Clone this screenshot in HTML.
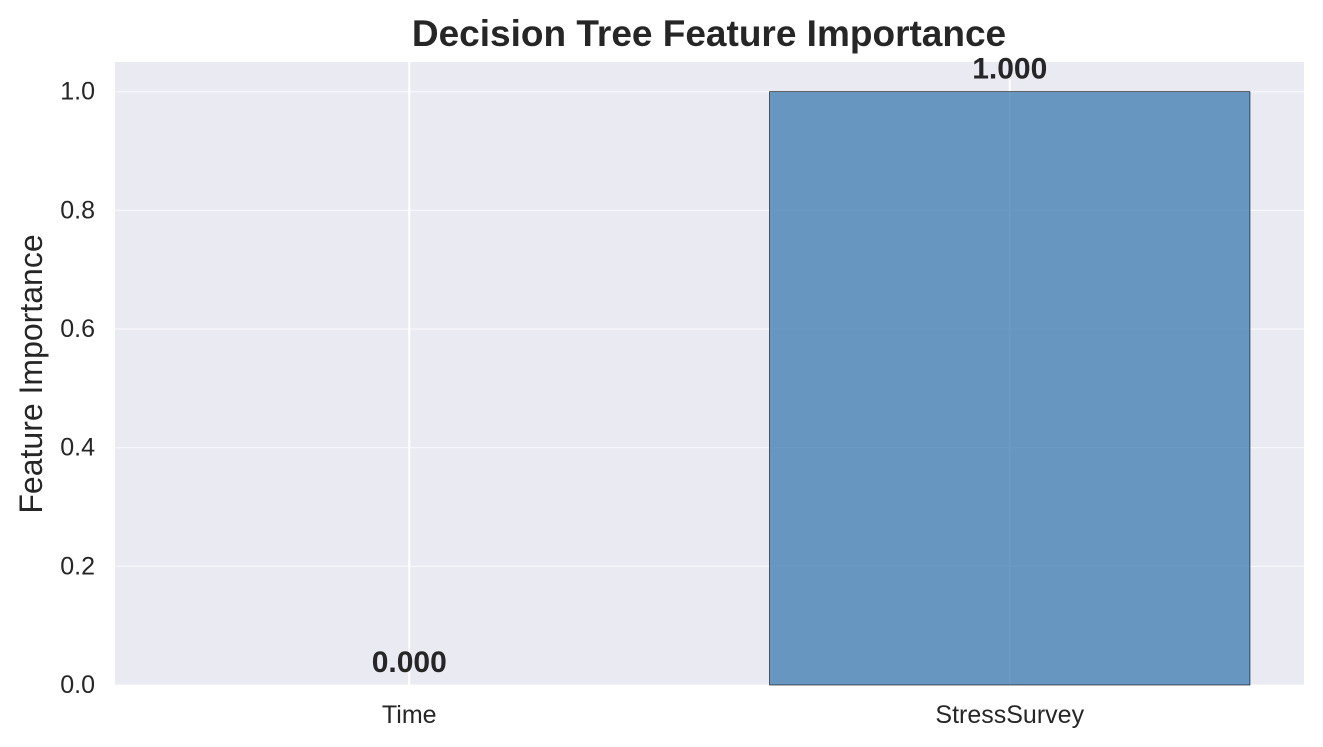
<!DOCTYPE html>
<html><head><meta charset="utf-8"><style>
html,body{margin:0;padding:0;background:#fff;}
svg{display:block;font-family:"Liberation Sans",Arial,sans-serif;}
</style></head><body>
<svg id="chart" width="1323" height="747" viewBox="0 0 1323 747" xmlns="http://www.w3.org/2000/svg">
<rect x="0" y="0" width="1323" height="747" fill="#fff"/>
<rect x="115" y="62" width="1189" height="623" fill="#eaeaf2"/>
<g id="grid"></g>
<g id="bars"></g>
<g id="labels"></g>
<g id="xticks"></g>
<g id="yticks"></g>
<text x="709" y="46" text-anchor="middle" font-size="37" font-weight="bold" fill="#262626">Decision Tree Feature Importance</text>
<text x="0" y="0" transform="translate(42,374) rotate(-90)" text-anchor="middle" font-size="32" fill="#262626">Feature Importance</text>
</svg>
<script>
const categories = ["Time", "StressSurvey"];
const importances = [0.000, 1.000];
const valueLabels = ["0.000", "1.000"];
const yTicks = [0.0, 0.2, 0.4, 0.6, 0.8, 1.0];
const yTickLabels = ["0.0", "0.2", "0.4", "0.6", "0.8", "1.0"];

const NS = "http://www.w3.org/2000/svg";
const L = 115, R = 1304, T = 62, B = 685;
const xMin = -0.49, xMax = 1.49, yMin = 0, yMax = 1.05;
const xs = v => L + (v - xMin) / (xMax - xMin) * (R - L);
const ys = v => B - (v - yMin) / (yMax - yMin) * (B - T);
function mk(tag, attrs, parent) {
  const e = document.createElementNS(NS, tag);
  for (const k in attrs) e.setAttribute(k, attrs[k]);
  document.getElementById(parent).appendChild(e);
  return e;
}
yTicks.forEach((t, i) => {
  const g = mk("line", {x1: L, x2: R, y1: ys(t), y2: ys(t), stroke: "#ffffff", "stroke-opacity": 0.6, "stroke-width": 1.3}, "grid");
  
  
  const tx = mk("text", {x: 95, y: ys(t) + 8, "text-anchor": "end", "font-size": 25, fill: "#262626"}, "yticks");
  tx.textContent = yTickLabels[i];
  
  
});
categories.forEach((c, i) => {
  const g = mk("line", {x1: xs(i), x2: xs(i), y1: T, y2: B, stroke: "#ffffff", "stroke-width": 2}, "grid");
  
  
  const y0 = ys(0), y1 = ys(importances[i]);
  const b = mk("rect", {x: xs(i - 0.4), y: Math.min(y0, y1), width: xs(i + 0.4) - xs(i - 0.4), height: Math.abs(y0 - y1), fill: "#4682b4", "fill-opacity": 0.8, stroke: "#000", "stroke-width": 0.6}, "bars");
  
  
  const lb = mk("text", {x: xs(i), y: y1 - 13, "text-anchor": "middle", "font-size": 30, "font-weight": "bold", fill: "#262626"}, "labels");
  lb.textContent = valueLabels[i];
  
  
  const tx = mk("text", {x: xs(i), y: 723, "text-anchor": "middle", "font-size": 25, fill: "#262626"}, "xticks");
  tx.textContent = c;
  
  
});
</script>
</body></html>
